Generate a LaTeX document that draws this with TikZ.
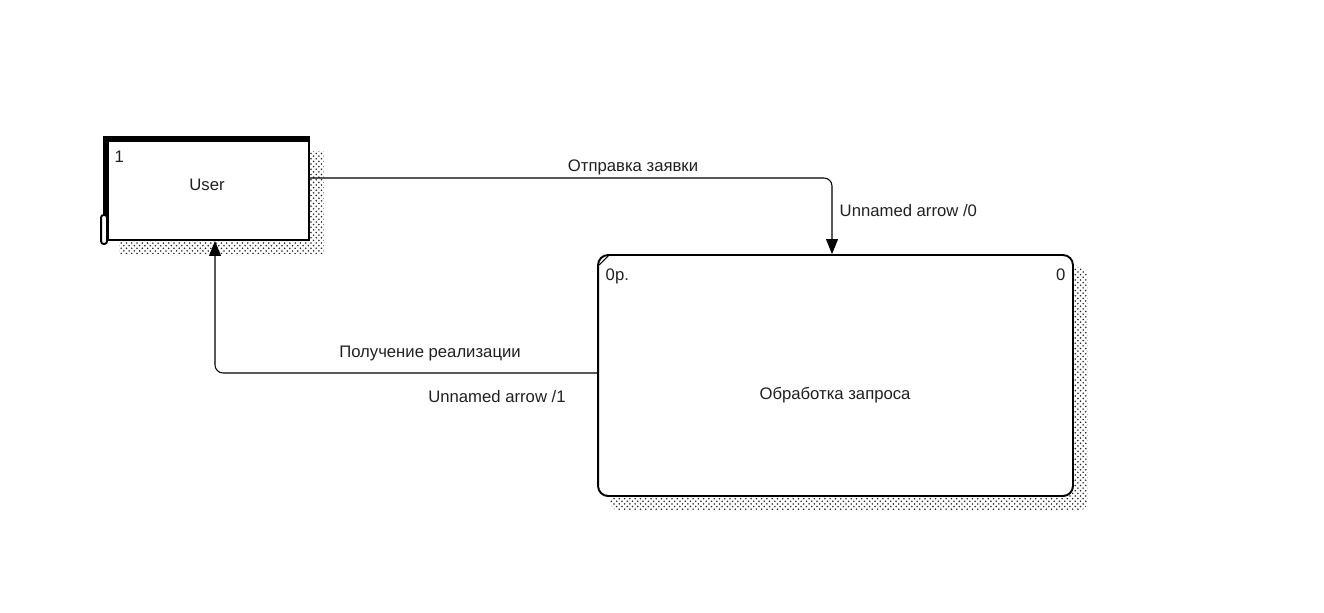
\documentclass[tikz,border=0pt]{standalone}
\usepackage{fontspec}
\setmainfont{Liberation Sans}
\usetikzlibrary{arrows.meta, positioning, calc, backgrounds, patterns}
\definecolor{cline}{HTML}{000000}
\definecolor{ctext}{HTML}{202020}
\tikzset{
  every picture/.style={font=\fontsize{9.5}{11}\selectfont, line width=1.1pt},
  entity/.style={draw=cline, fill=white, minimum width=4.04cm, minimum height=2cm, inner sep=0pt},
  process/.style={draw=cline, fill=white, rounded corners=0.2cm, minimum width=9.5cm, minimum height=4.82cm, inner sep=0pt},
  shade/.style={pattern=crosshatch dots, pattern color=gray!30!black},
  flow/.style={-{Triangle[length=0.3cm, width=0.24cm]}, draw=cline, line width=0.6pt, rounded corners=0.16cm},
  label/.style={text=ctext, inner sep=1pt},
}
\begin{document}
\begin{tikzpicture}[x=0.02cm, y=-0.02cm]
  \useasboundingbox (0,0) rectangle (1324,612);
  % boxes
  \node[entity] (user) at (208,190) {};
  \node[process] (proc) at (835.5,375.5) {};
  \begin{scope}[on background layer]
    \fill[shade] ($(user.north west)+(13,12)$) rectangle ($(user.south east)+(14,13)$);
    \fill[shade, rounded corners=0.2cm] ($(proc.north west)+(13,13)$) rectangle ($(proc.south east)+(14,14)$);
  \end{scope}
  % thick edges of the external entity
  \draw[line width=3.2pt] ([yshift=-0.01cm]user.south west) -- (user.north west) -- (user.north east);
  \draw[fill=white, rounded corners=1.5pt] ([xshift=-0.1cm,yshift=0.52cm]user.south west) rectangle ([xshift=0.02cm,yshift=-0.06cm]user.south west);
  \draw[line width=0.6pt] ([xshift=0.04cm,yshift=-0.22cm]proc.north west) -- ([xshift=0.24cm,yshift=-0.02cm]proc.north west);
  % texts in boxes
  \node[label, anchor=north west] (usernum) at (112,148) {1};
  \node[label] (username) at (207,185) {User};
  \node[label, anchor=north west] (procid) at (603,266) {0р.};
  \node[label, anchor=north east] (procnum) at (1068,266) {0};
  \node[label] (procname) at (835,395) {Обработка запроса};
  % flows
  \draw[flow] ([yshift=0.24cm]user.east) -| ([xshift=-0.07cm]proc.north);
  \draw[flow] ([yshift=0.05cm]proc.west) -| ([xshift=0.14cm]user.south);
  \node[label] (sendlbl) at (633,167) {Отправка заявки};
  \node[label, anchor=west] (arrow0) at (837,211) {Unnamed arrow /0};
  \node[label] (getlbl) at (430,353) {Получение реализации};
  \node[label] (arrow1) at (497,397) {Unnamed arrow /1};
\end{tikzpicture}
\end{document}
